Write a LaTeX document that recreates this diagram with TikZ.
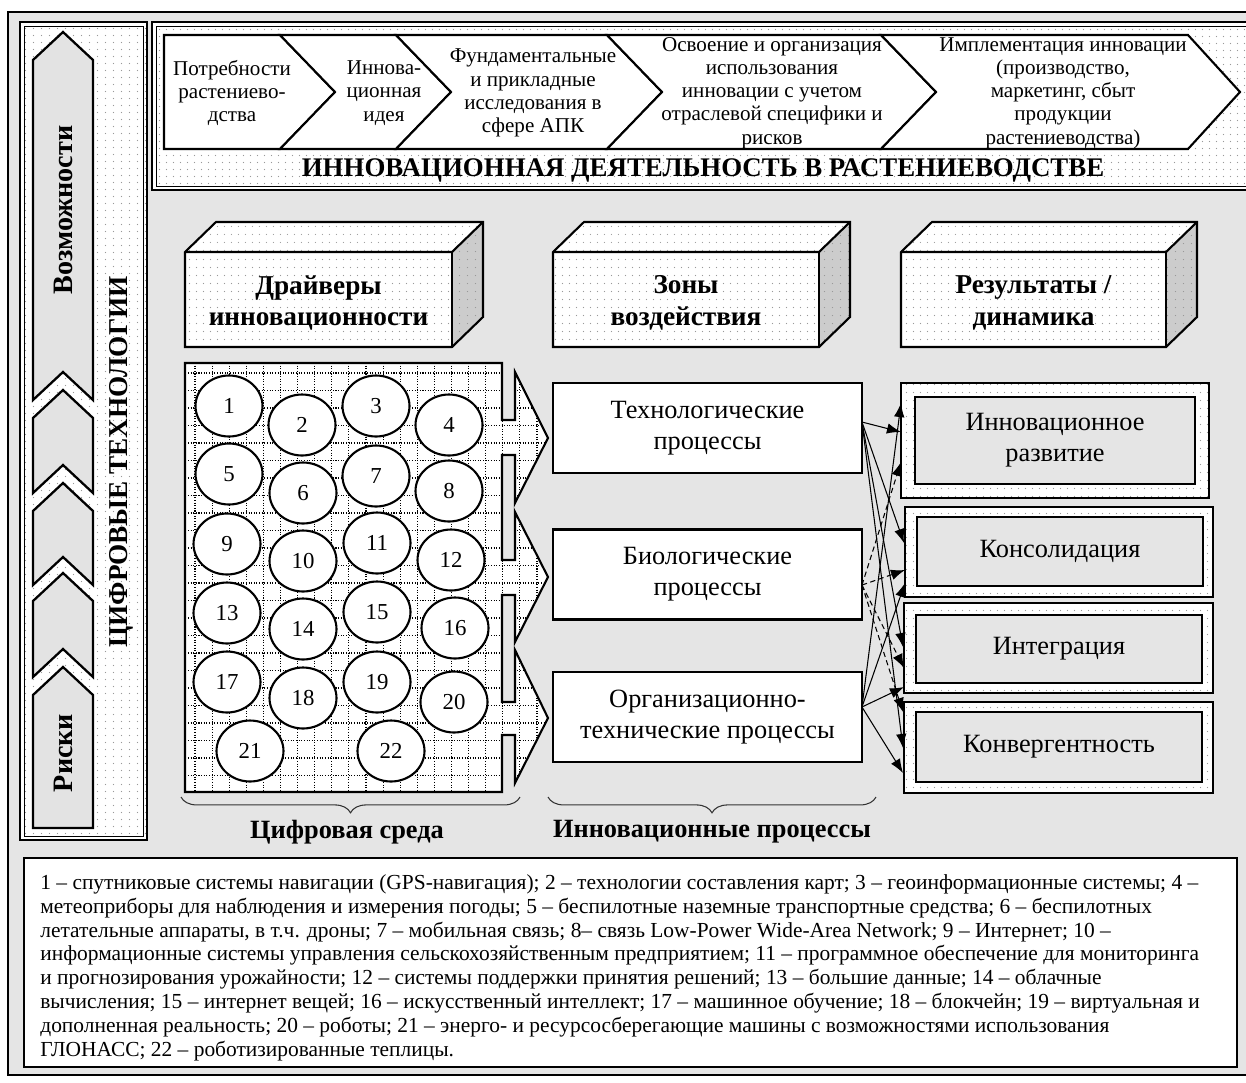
\documentclass[tikz,border=0pt]{standalone}
\usepackage{fontspec}
\setmainfont{Liberation Serif}
\usetikzlibrary{shapes.geometric,arrows.meta,decorations.pathreplacing,patterns.meta}

% sparse grey dots used as a light background texture
\tikzdeclarepattern{
  name=paperdots,
  type=colored,
  bottom left={(0pt,0pt)},
  top right={(4.25pt,4.25pt)},
  tile size={(4.25pt,4.25pt)},
  code={\fill[black!40] (2.12pt,2.12pt) circle (0.33pt);}
}

\definecolor{bg}{gray}{0.9}
\definecolor{chevfill}{gray}{0.89}
\definecolor{sidefill}{gray}{0.8}

\begin{document}
\begin{tikzpicture}[x=0.02cm,y=-0.02cm,
  heavy/.style={line width=1.2pt, line join=miter},
  chevtext/.style={font=\fontsize{12}{13.2}\selectfont, align=center, inner sep=0pt},
  headtext/.style={font=\bfseries\fontsize{15.5}{18}\selectfont, align=center, inner sep=0pt},
  sidetext/.style={font=\bfseries\fontsize{16}{18}\selectfont, rotate=90, inner sep=0pt},
  proctext/.style={font=\fontsize{15}{17.6}\selectfont, align=center, inner sep=0pt},
  procbox/.style={draw, heavy, fill=white, minimum width=6.18cm, minimum height=1.8cm, inner sep=0pt, outer sep=0pt},
  num/.style={ellipse, draw, heavy, fill=white, minimum width=1.34cm, minimum height=1.22cm, inner sep=0pt, font=\fontsize{13}{13}\selectfont},
  gridline/.style={line width=0.6pt, dash pattern=on 0.6pt off 0.9pt},
  link/.style={-{Latex[length=8pt,width=6pt]}, line width=0.6pt},
  dlink/.style={link, dash pattern=on 3pt off 2pt},
  curly/.style={decorate, decoration={brace, amplitude=9pt}, line width=0.6pt, black!80},
  captext/.style={font=\bfseries\fontsize{15}{17}\selectfont, inner sep=0pt}
]
\useasboundingbox (0,0) rectangle (1246,1082);
\clip (0,0) rectangle (1246,1082);

% ---------- outer frame ----------
\fill[white] (0,0) rectangle (1246,1082);
\draw[fill=bg, line width=1.5pt] (8,12) rectangle (1260,1075);

% ---------- left panel: digital technologies ----------
\fill[white] (20,22) rectangle (147,840);
\fill[pattern=paperdots] (20,22) rectangle (147,840);
\draw[heavy] (20,22) rectangle (147,840);
\draw[line width=0.5pt] (24,26) rectangle (143,836);

\tikzset{chev/.style={fill=chevfill, draw, line width=1.3pt, line join=miter}}
\draw[chev] (33,60) -- (63,32) -- (93,60) -- (93,400) -- (63,372) -- (33,400) -- cycle;
\draw[chev] (33,418) -- (63,390) -- (93,418) -- (93,493) -- (63,465) -- (33,493) -- cycle;
\draw[chev] (33,511) -- (63,483) -- (93,511) -- (93,585) -- (63,557) -- (33,585) -- cycle;
\draw[chev] (33,601) -- (63,573) -- (93,601) -- (93,677) -- (63,649) -- (33,677) -- cycle;
\draw[chev] (33,695) -- (63,667) -- (93,695) -- (93,828) -- (33,828) -- cycle;

\node[sidetext] (vozm) at (63,210) {Возможности};
\node[sidetext] (riski) at (63,753) {Риски};
\node[sidetext, font=\bfseries\fontsize{15.5}{18}\selectfont] (cifr) at (121,462) {ЦИФРОВЫЕ ТЕХНОЛОГИИ};

% ---------- top panel: innovation activity ----------
\fill[white] (152,22) rectangle (1260,190);
\fill[pattern=paperdots] (152,22) rectangle (1260,190);
\draw[heavy] (152,22) rectangle (1260,190);
\draw[line width=0.5pt] (156,26) rectangle (1256,186);

\tikzset{stage/.style={fill=white, draw, line width=1.2pt, line join=miter}}
\draw[stage] (164,35) -- (280,35) -- (335,92) -- (280,149) -- (164,149) -- cycle;
\draw[stage] (280,35) -- (396,35) -- (451,92) -- (396,149) -- (280,149) -- (335,92) -- cycle;
\draw[stage] (396,35) -- (607,35) -- (662,92) -- (607,149) -- (396,149) -- (451,92) -- cycle;
\draw[stage] (607,35) -- (881,35) -- (936,92) -- (881,149) -- (607,149) -- (662,92) -- cycle;
\draw[stage] (881,35) -- (1188,35) -- (1240,92) -- (1188,149) -- (881,149) -- (936,92) -- cycle;

\node[chevtext] (q1) at (232,93) {Потребности\\растениево-\\дства};
\node[chevtext] (q2) at (384,93) {Иннова-\\ционная\\идея};
\node[chevtext] (q3) at (533,93) {Фундаментальные\\и прикладные\\исследования в\\сфере АПК};
\node[chevtext] (q4) at (772,93) {Освоение и организация\\использования\\инновации с учетом\\отраслевой специфики и\\рисков};
\node[chevtext] (q5) at (1063,93) {Имплементация инновации\\(производство,\\маркетинг, сбыт\\продукции\\растениеводства)};

\node[font=\bfseries\fontsize{15.3}{17}\selectfont, inner sep=0pt] (title) at (703,170)
  {ИННОВАЦИОННАЯ ДЕЯТЕЛЬНОСТЬ В РАСТЕНИЕВОДСТВЕ};

% ---------- 3D header blocks ----------
\foreach \a/\b in {185/452, 553/819, 901/1166}{
  \fill[white] (\a,252) -- (\a+31,222) -- (\b+31,222) -- (\b,252) -- cycle;
  \fill[pattern=paperdots] (\a,252) -- (\a+31,222) -- (\b+31,222) -- (\b,252) -- cycle;
  \fill[sidefill] (\b,252) -- (\b+31,222) -- (\b+31,317) -- (\b,347) -- cycle;
  \fill[pattern=paperdots] (\b,252) -- (\b+31,222) -- (\b+31,317) -- (\b,347) -- cycle;
  \fill[white] (\a,252) rectangle (\b,347);
  \fill[pattern=paperdots] (\a,252) rectangle (\b,347);
  \draw[heavy] (\a,252) -- (\a+31,222) -- (\b+31,222) -- (\b+31,317) -- (\b,347) -- (\a,347) -- cycle;
  \draw[heavy] (\a,252) -- (\b,252) -- (\b+31,222);
  \draw[heavy] (\b,252) -- (\b,347);
}
\node[headtext] (h1) at (318.5,303) {Драйверы\\инновационности};
\node[headtext] (h2) at (686,303) {Зоны\\воздействия};
\node[headtext] (h3) at (1033.5,303) {Результаты /\\динамика};

% ---------- digital environment: grid with three outgoing block arrows ----------
\def\drvpath{(185,363) -- (502,363) -- (502,420) -- (515,420) -- (515,372) -- (548,438) -- (515,503) -- (515,455) -- (502,455)
  -- (502,560) -- (515,560) -- (515,512) -- (548,577) -- (515,642) -- (515,595) -- (502,595)
  -- (502,702) -- (515,702) -- (515,650) -- (548,718) -- (515,783) -- (515,735) -- (502,735)
  -- (502,792) -- (185,792) -- cycle}
\begin{scope}
  \clip \drvpath;
  \fill[white] (180,355) rectangle (555,800);
  \foreach \x in {195,212.1,...,550} \draw[gridline] (\x,355) -- (\x,800);
  \foreach \y in {373,390.5,...,800} \draw[gridline] (180,\y) -- (555,\y);
\end{scope}
\draw[heavy] \drvpath;

\foreach \n/\x/\y in {1/229/406, 2/302/425, 3/376/406, 4/449/425,
                      5/229/474, 6/303/493, 7/376/476, 8/449/491,
                      9/227/544, 10/303/561, 11/377/543, 12/451/560,
                      13/227/613, 14/303/629, 15/377/612, 16/455/628,
                      17/227/682, 18/303/698, 19/377/682, 20/454/702,
                      21/250/751, 22/391/751}
  \node[num] (c\n) at (\x,\y) {\n};

% ---------- innovation processes ----------
\node[procbox, proctext] (p1) at (707.5,428) {Технологические\\процессы};
\node[procbox, proctext] (p2) at (707.5,574.5) {Биологические\\процессы};
\node[procbox, proctext] (p3) at (707.5,717) {Организационно-\\технические процессы};

% ---------- results / dynamics ----------
\foreach \ox/\oy/\ow/\oh/\ix/\iy/\iw/\ih in {
    901/383/1209/498/915/397/1195/484,
    905/507/1213/597/917/517/1203/586,
    904/603/1213/693/916/615/1202/683,
    904/702/1213/793/916/712/1202/782}{
  \fill[white] (\ox,\oy) rectangle (\ow,\oh);
  \fill[pattern=paperdots] (\ox,\oy) rectangle (\ow,\oh);
  \draw[heavy] (\ox,\oy) rectangle (\ow,\oh);
  \draw[heavy, fill=bg] (\ix,\iy) rectangle (\iw,\ih);
}
\node[proctext] (r1) at (1055,440.5) {Инновационное\\развитие};
\node[proctext] (r2) at (1060,551.5) {Консолидация};
\node[proctext] (r3) at (1059,649) {Интеграция};
\node[proctext] (r4) at (1059,747) {Конвергентность};

% arrow end points on the left edges of the result blocks
\coordinate (a1) at (901,403);
\coordinate (a2) at (901,432);
\coordinate (a3) at (901,462);
\coordinate (b1) at (904,543);
\coordinate (b2) at (905,570);
\coordinate (b3) at (905,583);
\coordinate (d1) at (903,647);
\coordinate (d2) at (904,668);
\coordinate (d3) at (904,687);
\coordinate (e1) at (903,712);
\coordinate (e2) at (903,748);
\coordinate (e3) at (903,773);

\coordinate (s1) at ([yshift=3.4pt]p1.east);
\coordinate (s2) at ([yshift=-6pt]p2.east);
\coordinate (s3) at ([yshift=5.7pt]p3.east);

\draw[link] (s1) -- (a2);
\draw[link] (s1) -- (b1);
\draw[link] (s1) -- (d1);
\draw[link] (s1) -- (e2);
\draw[dlink] (s2) -- (a3);
\draw[dlink] (s2) -- (b2);
\draw[dlink] (s2) -- (d2);
\draw[dlink] (s2) -- (e1);
\draw[link] (s3) -- (a1);
\draw[link] (s3) -- (b3);
\draw[link] (s3) -- (d3);
\draw[link] (s3) -- (e3);

% ---------- braces and captions ----------
\draw[curly] (520,797) -- (181,797);
\draw[curly] (876,797) -- (548,797);
\node[captext] (cap1) at (347,832) {Цифровая среда};
\node[captext] (cap2) at (712,832) {Инновационные процессы};

% ---------- legend ----------
\draw[heavy, fill=white] (24,858) rectangle (1237,1067);
\node[anchor=north west, align=left, inner sep=0pt, font=\fontsize{12.2}{13.6}\selectfont] (legend) at (40,874)
{1 – спутниковые системы навигации (GPS-навигация); 2 – технологии составления карт; 3 – геоинформационные системы; 4 –\\
метеоприборы для наблюдения и измерения погоды; 5 – беспилотные наземные транспортные средства; 6 – беспилотных\\
летательные аппараты, в т.ч. дроны; 7 – мобильная связь; 8– связь Low-Power Wide-Area Network; 9 – Интернет; 10 –\\
информационные системы управления сельскохозяйственным предприятием; 11 – программное обеспечение для мониторинга\\
и прогнозирования урожайности; 12 – системы поддержки принятия решений; 13 – большие данные; 14 – облачные\\
вычисления; 15 – интернет вещей; 16 – искусственный интеллект; 17 – машинное обучение; 18 – блокчейн; 19 – виртуальная и\\
дополненная реальность; 20 – роботы; 21 – энерго- и ресурсосберегающие машины с возможностями использования\\
ГЛОНАСС; 22 – роботизированные теплицы.};
\end{tikzpicture}
\end{document}
